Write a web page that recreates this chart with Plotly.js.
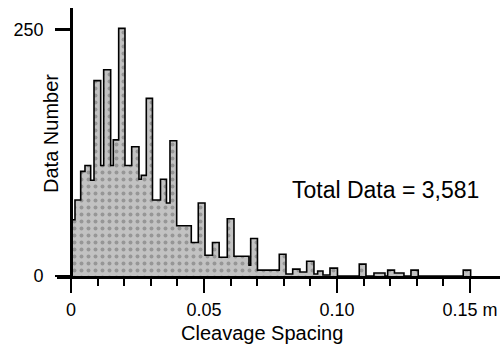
<!DOCTYPE html>
<html>
<head>
<meta charset="utf-8">
<script src="https://cdn.plot.ly/plotly-3.0.1.min.js"></script>
<style>html,body{margin:0;padding:0;background:#fff;}#chart{width:504px;height:347px;}</style>
</head>
<body>
<div id="chart"></div>
<script>
// Histogram bin edges (m) and counts
const binEdges = [0, 0.0015, 0.00365, 0.00526, 0.0074, 0.00865, 0.01117, 0.01229, 0.01492, 0.0159,
  0.01793, 0.0203, 0.02282, 0.02556, 0.02643, 0.02831, 0.03064, 0.03365, 0.0359, 0.03722,
  0.03974, 0.04523, 0.04786, 0.05038, 0.0532, 0.05571, 0.05876, 0.06128, 0.06692, 0.06756,
  0.07011, 0.07831, 0.08083, 0.08335, 0.08609, 0.08861, 0.09135, 0.09274, 0.09474, 0.09737,
  0.10019, 0.10838, 0.1109, 0.11391, 0.11805, 0.11906, 0.12162, 0.12519, 0.12782, 0.13056,
  0.14748, 0.15026];
const counts = [57, 77, 106, 112, 97, 198, 112, 209, 112, 138,
  251, 112, 131, 98, 102, 180, 77, 98, 74, 137,
  51, 34, 74, 21, 34, 19, 58, 20, 11, 38,
  6, 22, 2, 7, 4, 15, 2, 5, 1, 8,
  0, 12, 0, 3, 0, 6, 3, 0, 6, 0,
  6];
const majorTicks = [0, 0.05, 0.10, 0.15];
const majorLabels = ['0', '0.05', '0.10', '0.15 m'];
const minorTicks = [0.01, 0.02, 0.03, 0.04, 0.06, 0.07, 0.08, 0.09, 0.11, 0.12, 0.13, 0.14];
const yTicks = [0, 250];
const totalLabel = 'Total Data = 3,581';

// build step outline
const xs = [binEdges[0]], ys = [0];
for (let i = 0; i < counts.length; i++) { xs.push(binEdges[i]); ys.push(counts[i]); }
xs.push(binEdges[binEdges.length - 1]); ys.push(0);

const font = 'Liberation Sans, Arial, Helvetica, sans-serif';
const trace = {
  type: 'scatter', mode: 'lines', x: xs, y: ys,
  line: {shape: 'hv', color: '#000', width: 1.6},
  fill: 'tozeroy', fillcolor: '#c0c0c0',
  fillpattern: {shape: '.', bgcolor: '#c2c2c2', fgcolor: '#969696', size: 7, solidity: 0.25},
  hoverinfo: 'skip', showlegend: false, cliponaxis: false
};

const layout = {
  width: 504, height: 347,
  margin: {l: 57, r: 4, t: 8, b: 71},
  paper_bgcolor: '#fff', plot_bgcolor: '#fff',
  showlegend: false,
  xaxis: {
    range: [-0.00526, 0.1613], showgrid: false, zeroline: false,
    showline: true, linecolor: '#000', linewidth: 2.5,
    tickmode: 'array', tickvals: majorTicks, ticktext: majorLabels,
    ticks: 'outside', ticklen: 14, tickwidth: 2.5, tickcolor: '#000',
    tickfont: {family: font, size: 18, color: '#000'},
    ticklabelstandoff: 2,
    minor: {tickmode: 'array', tickvals: minorTicks, ticks: 'outside', ticklen: 7, tickwidth: 2, tickcolor: '#000', showgrid: false}
  },
  yaxis: {
    range: [0, 271.6], anchor: 'free', position: 0.0319,
    showgrid: false, zeroline: false,
    showline: true, linecolor: '#000', linewidth: 2.5,
    tickmode: 'array', tickvals: yTicks,
    ticks: 'outside', ticklen: 15, tickwidth: 2.5, tickcolor: '#000',
    tickfont: {family: font, size: 18, color: '#000'},
    ticklabelstandoff: 8
  },
  annotations: [
    {text: totalLabel, xref: 'x', yref: 'y', x: 0.1182, y: 87, showarrow: false,
     xanchor: 'center', yanchor: 'middle', font: {family: font, size: 23, color: '#000'}},
    {text: 'Cleavage Spacing', xref: 'x', yref: 'paper', x: 0.072, y: -0.2127, showarrow: false,
     xanchor: 'center', yanchor: 'middle', font: {family: font, size: 20, color: '#000'}},
    {text: 'Data Number', xref: 'paper', yref: 'paper', x: -0.0135, y: 0.53, textangle: -90, showarrow: false,
     xanchor: 'center', yanchor: 'middle', font: {family: font, size: 20, color: '#000'}}
  ]
};

Plotly.newPlot('chart', [trace], layout, {displayModeBar: false, staticPlot: true});
</script>
</body>
</html>
